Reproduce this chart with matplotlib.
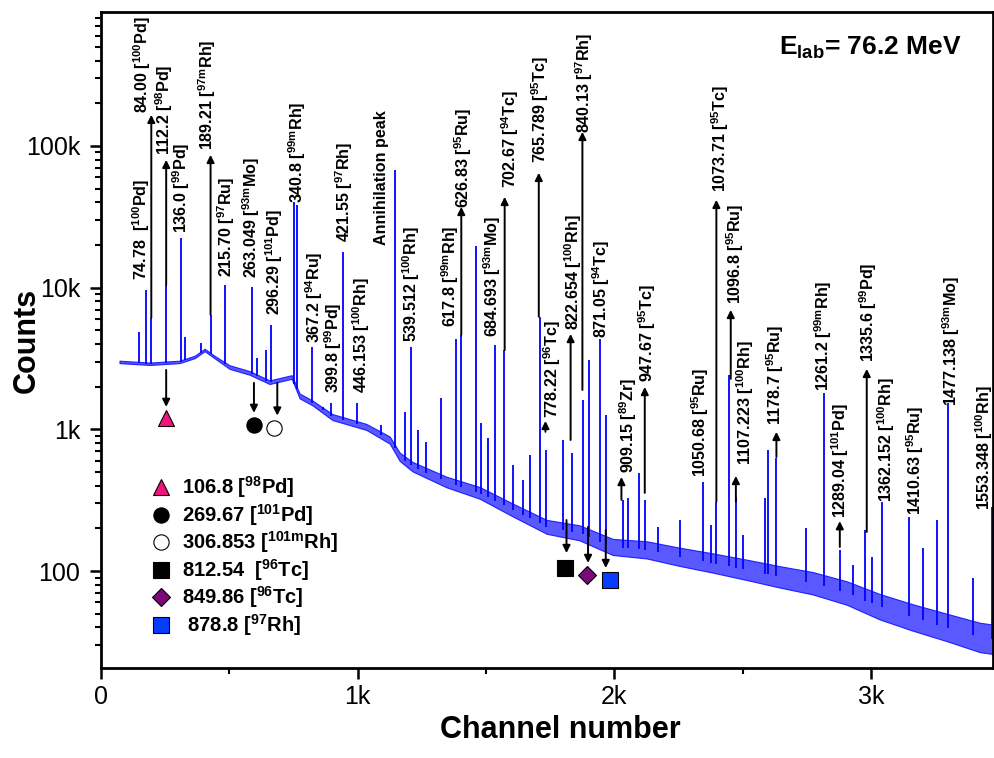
import numpy as np
import matplotlib.pyplot as plt
from matplotlib.lines import Line2D

plt.rcParams['font.family'] = ['Liberation Sans', 'DejaVu Sans']
plt.rcParams['mathtext.fontset'] = 'custom'
for k in ('rm', 'it', 'bf', 'sf'):
    plt.rcParams['mathtext.' + k] = 'Liberation Sans:bold'

# continuum under the peaks (channel, counts) and width of the noise band
base_ch = [72, 189, 306, 365, 404, 442, 501, 579, 657, 743, 774, 824, 902, 1034, 1125,
           1164, 1214, 1346, 1476, 1604, 1737, 1865, 1994, 2127, 2255, 2384, 2516, 2645,
           2774, 2906, 3035, 3164, 3296, 3425, 3476]
base_counts = [2990, 2900, 2990, 3240, 3630, 3240, 2750, 2500, 2150, 2340, 1720, 1535, 1220,
               1040, 840, 640, 545, 425, 356, 270, 205, 186, 148, 141, 126, 114, 102, 91,
               82, 70, 56, 47, 40, 34, 33]
noise = [1.02, 1.02, 1.02, 1.02, 1.02, 1.02, 1.03, 1.03, 1.03, 1.03, 1.04, 1.04, 1.05, 1.05,
         1.06, 1.07, 1.08, 1.09, 1.1, 1.11, 1.12, 1.13, 1.14, 1.15, 1.16, 1.17, 1.18, 1.19,
         1.2, 1.21, 1.23, 1.24, 1.25, 1.27, 1.27]

# peaks (channel, top counts)
peak_ch = [150, 174, 196, 254, 310, 329, 388, 427, 483, 589, 606, 644, 663, 754, 763,
           822, 865, 895, 943, 997, 1090, 1144, 1183, 1207, 1235, 1268, 1324, 1385, 1404,
           1460, 1482, 1508, 1534, 1569, 1605, 1645, 1671, 1710, 1736, 1800, 1837, 1878,
           1901, 1946, 1967, 2034, 2054, 2097, 2119, 2171, 2255, 2344, 2376, 2396, 2448,
           2473, 2500, 2587, 2600, 2632, 2747, 2817, 2879, 2929, 2979, 3003, 3042, 3149,
           3202, 3259, 3299, 3399, 3471]
peak_counts = [4870, 9640, 6110, 10440, 22400, 4500, 4070, 6420, 10440, 10100, 3190, 3630,
               5460, 40400, 38000, 3840, 1440, 1535, 17950, 1535, 1074, 67700, 1333, 3840,
               991, 819, 1656, 4325, 4635, 19700, 1109, 866, 3940, 3620, 561, 440, 659, 6240,
               716, 841, 681, 1613, 3090, 4325, 1265, 318, 328, 492, 318, 205, 229, 428, 211,
               309, 2420, 335, 180, 328, 716, 625, 202, 1807, 141, 110, 195, 126, 309, 242,
               146, 229, 1528, 89, 285]

# labelled lines: energy (keV), nucleus, label position (channel, counts)
lab_energy = ['74.78 ', '84.00', '112.2', '136.0', '189.21', '215.70', '263.049', '296.29',
              '340.8', '367.2', '399.8', '421.55', '446.153', '539.512', '617.8', '626.83',
              '684.693', '702.67', '765.789', '778.22', '822.654', '840.13', '871.05',
              '909.15', '947.67', '1050.68', '1073.71', '1096.8', '1107.223', '1178.7',
              '1261.2', '1289.04', '1335.6', '1362.152', '1410.63', '1477.138', '1553.348']
lab_mass = ['100', '100', '98', '99', '97m', '97', '93m', '101', '99m', '94', '99', '97', '100',
            '100', '99m', '95', '93m', '94', '95', '96', '100', '97', '94', '89', '95', '95',
            '95', '95', '100', '95', '99m', '101', '99', '100', '95', '93m', '100']
lab_elem = ['Pd', 'Pd', 'Pd', 'Pd', 'Rh', 'Ru', 'Mo', 'Pd', 'Rh', 'Ru', 'Pd', 'Rh', 'Rh',
            'Rh', 'Rh', 'Ru', 'Mo', 'Tc', 'Tc', 'Tc', 'Rh', 'Rh', 'Tc', 'Zr', 'Tc', 'Ru',
            'Tc', 'Ru', 'Rh', 'Ru', 'Rh', 'Pd', 'Pd', 'Rh', 'Ru', 'Mo', 'Rh']
lab_ch = [157, 161, 248, 313, 412, 488, 586, 676, 763, 830, 905, 949, 1012, 1209, 1361,
          1413, 1526, 1593, 1712, 1760, 1838, 1881, 1950, 2053, 2127, 2336, 2411, 2470,
          2509, 2626, 2813, 2879, 2988, 3058, 3171, 3312, 3442]
lab_counts = [11330, 170000, 86400, 24320, 93700, 11900, 11700, 6420, 39600, 4070, 1807,
              21000, 1807, 4140, 5280, 36500, 4490, 50500, 75900, 1203, 5030, 123500, 4420,
              492, 2160, 461, 47350, 7670, 561, 1074, 1866, 237, 2990, 307, 249, 1463, 270]

# upward arrows from peak to label (channel, from counts, to counts)
up_ch = [196, 254, 427, 1404, 1573, 1706, 1732, 1830, 1876, 2028, 2119, 2398, 2454, 2474,
         2632, 2879, 2984]
up_from = [6110, 10440, 6420, 4635, 3620, 6240, 960, 841, 1897, 318, 356, 309, 2270, 309,
           638, 148, 189]
up_to = [165600, 79700, 86400, 37100, 43650, 64500, 1146, 4710, 125500, 461, 1990, 41600,
         6960, 469, 960, 225, 2670]

# lines marked with symbols
mk_energy = ['106.8', '269.67', '306.853', '812.54 ', '849.86', ' 878.8']
mk_mass = ['98', '101', '101m', '96', '96', '97']
mk_elem = ['Pd', 'Pd', 'Rh', 'Tc', 'Tc', 'Rh']
mk_ch = [254, 596, 676, 1810, 1892, 1982]
mk_counts = [1202, 1074, 1023, 105, 94, 86.5]
mk_arrow_ch = [254, 596, 687, 1814, 1898, 1967]
mk_arrow_from = [2625, 2125, 2125, 229, 205, 195]
mk_arrow_to = [1439, 1306, 1250, 134, 114, 105]
mk_style = [('^', '#f0147f'), ('o', 'black'), ('o', 'white'), ('s', 'black'),
            ('D', '#7a0a7a'), ('s', '#0a3cff')]

fig = plt.figure(figsize=(9.94, 7.58), dpi=100)
ax = fig.add_axes([101 / 994, 1 - 668 / 758, 892 / 994, 656 / 758])
ax.set_yscale('log')

base = np.array(base_counts, dtype=float)
spread = np.array(noise)
ax.fill_between(base_ch, base / spread, base * spread, facecolor='#3030ff',
                edgecolor='blue', lw=0.8, alpha=0.8)
peak_base = np.exp(np.interp(peak_ch, base_ch, np.log(base)))
ax.vlines(peak_ch, peak_base, peak_counts, color='blue', lw=1.3)

arrow_kw = dict(arrowstyle='-|>', color='black', lw=1.4, mutation_scale=11,
                shrinkA=0, shrinkB=0)
for c, a, b in zip(up_ch, up_from, up_to):
    ax.annotate('', xy=(c, b), xytext=(c, a), arrowprops=arrow_kw)

for e, m, el, c, y in zip(lab_energy, lab_mass, lab_elem, lab_ch, lab_counts):
    ax.text(c, y, f'{e} [$^{{{m}}}$' + el + ']', rotation=90, ha='center', va='bottom',
            fontsize=11.6, fontweight='bold')
ax.text(1092, 20000, 'Annihilation peak', rotation=90, ha='center', va='bottom',
        fontsize=11.6, fontweight='bold')

handles = []
for i in range(len(mk_ch)):
    ax.annotate('', xy=(mk_arrow_ch[i], mk_arrow_to[i]),
                xytext=(mk_arrow_ch[i], mk_arrow_from[i]), arrowprops=arrow_kw)
    mk, col = mk_style[i]
    ms = 9 if mk == 'D' else 11
    ax.plot(mk_ch[i], mk_counts[i], ls='none', marker=mk, ms=ms, mfc=col, mec='black', mew=0.8)
    handles.append(Line2D([], [], ls='none', marker=mk, ms=ms, mfc=col, mec='black', mew=0.8))

mk_labels = [f'{e} [$^{{{m}}}$' + el + ']' for e, m, el in zip(mk_energy, mk_mass, mk_elem)]
ax.legend(handles, mk_labels, loc='upper left', bbox_to_anchor=(0.056, 0.295), frameon=False,
          prop=dict(size=14.5, weight='bold'), handlelength=1, handletextpad=0.55,
          labelspacing=0.08, borderaxespad=0, borderpad=0)

ax.set_xlim(0, 3476)
ax.set_ylim(20.7, 8.8e5)
ax.set_xticks([0, 1000, 2000, 3000])
ax.set_xticklabels(['0', '1k', '2k', '3k'])
ax.set_xticks([500, 1500, 2500], minor=True)
ax.set_yticks([100, 1000, 10000, 100000])
ax.set_yticklabels(['100', '1k', '10k', '100k'])
ax.tick_params(which='major', direction='out', length=8, width=1.8, labelsize=18, pad=7)
ax.tick_params(axis='x', which='major', pad=4)
ax.tick_params(which='minor', direction='out', length=4, width=1.5)
for s in ax.spines.values():
    s.set_linewidth(2)

ax.set_xlabel('Channel number', fontsize=22, fontweight='bold')
ax.set_ylabel('Counts', fontsize=22, fontweight='bold')
ax.xaxis.set_label_coords(0.515, -0.072)
ax.yaxis.set_label_coords(-0.066, 0.5)

fig.text(779 / 994, 1 - 48 / 758, 'E$_{\\mathrm{lab}}$= 76.2 MeV', fontsize=19,
         fontweight='bold', va='center', ha='left')

fig.savefig('out.png', dpi=100)
